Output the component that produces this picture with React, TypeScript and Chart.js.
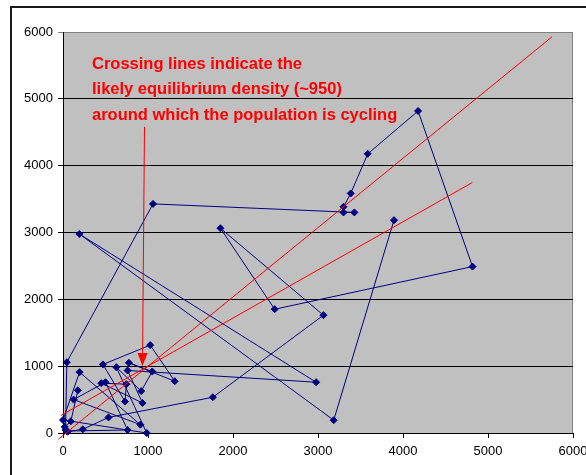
import { useEffect, useRef } from "react";
import { Chart, registerables } from "chart.js";

Chart.register(...registerables);

// Population density series N(t); each plotted point is (N(t), N(t+1))
const population = [
  3894, 3185, 192, 2978, 760, 935, 450, 746, 730, 470, 1026, 1315, 775, 1050,
  920, 627, 985, 0, 195, 910, 125, 500, 760, 45, 30, 45, 1059, 3428, 3300, 3300,
  3385, 3585, 4177, 4818, 2490, 1852, 3064, 1763, 535, 233, 55, 20, 92, 175, 639,
];

// Two fitted (red) lines, given by their end points
const steepLineX = [-55, 5753];
const steepLineY = [-94, 5928];
const shallowLineX = [-25, 4815];
const shallowLineY = [262, 3747];

// Arrow pointing at the crossing (~950)
const arrowX = [959, 935];
const arrowY = [4580, 1003];

const noteLines = [
  "Crossing lines indicate the",
  "likely equilibrium density (~950)",
  "around which the population is cycling",
];

const axisMin = 0;
const axisMax = 6000;
const axisStep = 1000;

const FONT = '"Liberation Sans", Arial, Helvetica, sans-serif';

const decorPlugin = {
  id: "decor",
  beforeDraw(chart: any) {
    const { ctx, chartArea: a } = chart;
    ctx.save();
    ctx.fillStyle = "#C0C0C0";
    ctx.fillRect(a.left, a.top, a.right - a.left, a.bottom - a.top);
    ctx.strokeStyle = "#808080";
    ctx.lineWidth = 1;
    ctx.beginPath();
    ctx.moveTo(a.right - 0.5, a.top);
    ctx.lineTo(a.right - 0.5, a.bottom);
    ctx.stroke();
    // outer chart frame (partly cropped)
    ctx.strokeStyle = "#1a1a1a";
    ctx.lineWidth = 2;
    ctx.beginPath();
    ctx.moveTo(11, chart.height + 2);
    ctx.lineTo(11, 7);
    ctx.lineTo(chart.width + 2, 7);
    ctx.stroke();
    ctx.restore();
  },
  afterDatasetsDraw(chart: any) {
    const { ctx, chartArea: a, scales } = chart;
    const xs = scales.x;
    const ys = scales.y;
    ctx.save();
    // arrow
    const x0 = xs.getPixelForValue(arrowX[0]);
    const y0 = ys.getPixelForValue(arrowY[0]);
    const x1 = xs.getPixelForValue(arrowX[1]);
    const y1 = ys.getPixelForValue(arrowY[1]);
    const ang = Math.atan2(y1 - y0, x1 - x0);
    const headLen = 13;
    const headHalf = 5;
    const bx = x1 - headLen * Math.cos(ang);
    const by = y1 - headLen * Math.sin(ang);
    ctx.strokeStyle = "#FF0000";
    ctx.fillStyle = "#FF0000";
    ctx.lineWidth = 1;
    ctx.beginPath();
    ctx.moveTo(x0, y0);
    ctx.lineTo(bx, by);
    ctx.stroke();
    ctx.beginPath();
    ctx.moveTo(x1, y1);
    ctx.lineTo(bx + headHalf * Math.sin(ang), by - headHalf * Math.cos(ang));
    ctx.lineTo(bx - headHalf * Math.sin(ang), by + headHalf * Math.cos(ang));
    ctx.closePath();
    ctx.fill();
    // note text
    ctx.font = `bold 16.5px ${FONT}`;
    ctx.textAlign = "left";
    ctx.textBaseline = "alphabetic";
    const tx = a.left + 29;
    noteLines.forEach((line, i) => {
      ctx.fillText(line, tx, a.top + 37 + i * 25.3);
    });
    ctx.restore();
  },
};

export default function App() {
  const ref = useRef<HTMLCanvasElement>(null);

  useEffect(() => {
    const pts = population.slice(0, -1).map((v, i) => ({ x: v, y: population[i + 1] }));
    const steep = steepLineX.map((v, i) => ({ x: v, y: steepLineY[i] }));
    const shallow = shallowLineX.map((v, i) => ({ x: v, y: shallowLineY[i] }));

    const chart = new Chart(ref.current as HTMLCanvasElement, {
      type: "scatter",
      data: {
        datasets: [
          {
            data: steep,
            showLine: true,
            borderColor: "#FF0000",
            borderWidth: 1,
            pointRadius: 0,
            clip: false as any,
            order: 0,
          },
          {
            data: shallow,
            showLine: true,
            borderColor: "#FF0000",
            borderWidth: 1,
            pointRadius: 0,
            clip: false as any,
            order: 1,
          },
          {
            data: pts,
            showLine: true,
            borderColor: "#000080",
            backgroundColor: "#000080",
            borderWidth: 1,
            pointStyle: "rectRot",
            pointRadius: 3.5,
            pointBorderWidth: 1,
            pointBorderColor: "#000080",
            pointBackgroundColor: "#000080",
            tension: 0,
            clip: false as any,
            order: 2,
          },
        ],
      },
      options: {
        responsive: false,
        animation: false,
        events: [],
        layout: { padding: { left: 0, right: 13, top: 32, bottom: 0 } },
        plugins: {
          legend: { display: false },
          tooltip: { enabled: false },
          title: { display: false },
        },
        scales: {
          x: {
            type: "linear",
            min: axisMin,
            max: axisMax,
            ticks: {
              stepSize: axisStep,
              color: "#000",
              font: { family: FONT, size: 13 },
              padding: 6,
              maxRotation: 0,
              autoSkip: false,
              callback: (v: any) => String(v),
            },
            grid: {
              drawOnChartArea: false,
              drawTicks: true,
              tickLength: 5,
              color: "#000",
            },
            border: { color: "#000", width: 1 },
            afterFit: (s: any) => {
              s.height = 42;
              s.paddingLeft = 0;
              s.paddingRight = 0;
            },
          },
          y: {
            type: "linear",
            min: axisMin,
            max: axisMax,
            ticks: {
              stepSize: axisStep,
              color: "#000",
              font: { family: FONT, size: 13 },
              padding: 5,
              callback: (v: any) => String(v),
            },
            grid: {
              drawTicks: true,
              tickLength: 5,
              color: (c: any) => (c.tick && c.tick.value === axisMax ? "#808080" : "#000"),
            },
            border: { color: "#000", width: 1 },
            afterFit: (s: any) => {
              s.width = 63;
            },
          },
        },
      },
      plugins: [decorPlugin],
    });
    return () => chart.destroy();
  }, []);

  return (
    <canvas
      ref={ref}
      width={586}
      height={475}
      style={{ position: "absolute", left: 0, top: 0, width: 586, height: 475 }}
    />
  );
}
